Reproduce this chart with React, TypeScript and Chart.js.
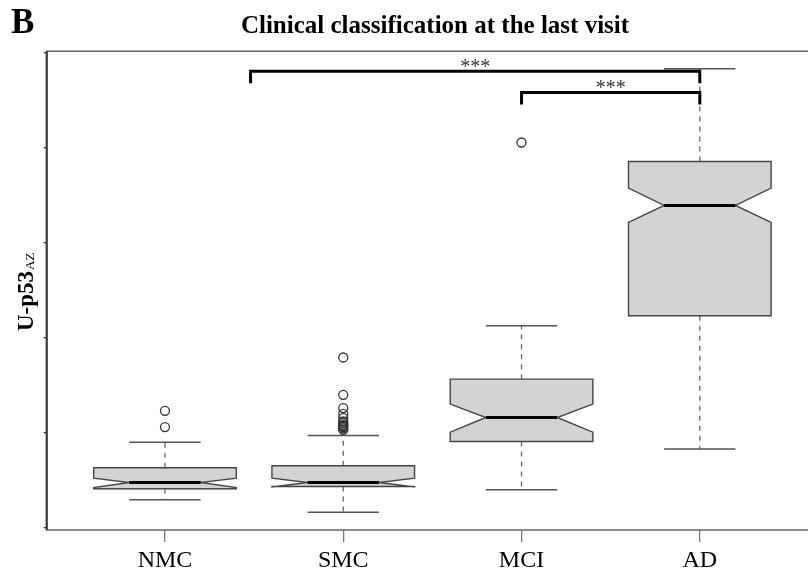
import React, { useEffect, useRef } from 'react';
import { Chart, registerables } from 'chart.js';

Chart.register(...registerables);

// groups on the x axis (positions 1..4)
const groups = ['NMC', 'SMC', 'MCI', 'AD'];

// box statistics (arbitrary units, y ticks 0..5 unlabelled)
const whiskerLo = [0.298, 0.168, 0.403, 0.832];
const q1 = [0.414, 0.438, 0.912, 2.235];
const notchLo = [0.427, 0.432, 1.01, 3.217];
const medians = [0.48, 0.48, 1.164, 3.396];
const notchHi = [0.526, 0.526, 1.305, 3.579];
const q3 = [0.635, 0.656, 1.568, 3.859];
const whiskerHi = [0.905, 0.975, 2.129, 4.835];

const outliers: number[][] = [
  [1.063, 1.235],
  [1.035, 1.05, 1.063, 1.075, 1.087, 1.105, 1.122, 1.158, 1.203, 1.263, 1.403, 1.796],
  [4.059],
  [],
];

const yTicks = [0, 1, 2, 3, 4, 5];

// significance brackets
const compFrom = [1.48, 3];
const compTo = [4, 4];
const compLevel = [4.81, 4.585];
const compLabel = ['***', '***'];

const boxPlugin = {
  id: 'notchedBoxes',
  beforeDatasetsDraw(chart: any) {
    const { ctx, scales } = chart;
    const px = (v: number) => scales.x.getPixelForValue(v);
    const py = (v: number) => scales.y.getPixelForValue(v);

    groups.forEach((_, i) => {
      const c = i + 1;
      ctx.save();
      // dashed whiskers
      ctx.strokeStyle = '#666';
      ctx.lineWidth = 1.3;
      ctx.setLineDash([5, 5]);
      ctx.beginPath();
      ctx.moveTo(px(c), py(q3[i]));
      ctx.lineTo(px(c), py(whiskerHi[i]));
      ctx.moveTo(px(c), py(q1[i]));
      ctx.lineTo(px(c), py(whiskerLo[i]));
      ctx.stroke();
      ctx.setLineDash([]);
      // staples
      ctx.strokeStyle = '#555';
      ctx.lineWidth = 1.5;
      ctx.beginPath();
      [whiskerHi[i], whiskerLo[i]].forEach(v => {
        ctx.moveTo(px(c - 0.2), py(v));
        ctx.lineTo(px(c + 0.2), py(v));
      });
      ctx.stroke();
      // notched box
      const pts = [
        [c - 0.4, q1[i]], [c - 0.4, notchLo[i]], [c - 0.2, medians[i]], [c - 0.4, notchHi[i]], [c - 0.4, q3[i]],
        [c + 0.4, q3[i]], [c + 0.4, notchHi[i]], [c + 0.2, medians[i]], [c + 0.4, notchLo[i]], [c + 0.4, q1[i]],
      ];
      ctx.beginPath();
      pts.forEach(([a, b], k) => (k ? ctx.lineTo(px(a), py(b)) : ctx.moveTo(px(a), py(b))));
      ctx.closePath();
      ctx.fillStyle = '#d3d3d3';
      ctx.fill();
      ctx.strokeStyle = '#444';
      ctx.lineWidth = 1.4;
      ctx.stroke();
      // median
      ctx.strokeStyle = '#000';
      ctx.lineWidth = 3.2;
      ctx.beginPath();
      ctx.moveTo(px(c - 0.2), py(medians[i]));
      ctx.lineTo(px(c + 0.2), py(medians[i]));
      ctx.stroke();
      ctx.restore();
    });
  },
  afterDraw(chart: any) {
    const { ctx, chartArea, scales } = chart;
    const px = (v: number) => scales.x.getPixelForValue(v);
    const py = (v: number) => scales.y.getPixelForValue(v);
    ctx.save();

    // plot frame
    ctx.strokeStyle = '#666';
    ctx.lineWidth = 1.5;
    ctx.strokeRect(chartArea.left, chartArea.top, chartArea.right - chartArea.left, chartArea.bottom - chartArea.top);
    ctx.strokeStyle = '#333';
    ctx.lineWidth = 2;
    ctx.beginPath();
    ctx.moveTo(chartArea.left, chartArea.top);
    ctx.lineTo(chartArea.left, chartArea.bottom);
    ctx.stroke();

    // brackets
    compFrom.forEach((f, i) => {
      const x1 = px(f);
      const x2 = px(compTo[i]);
      const yy = py(compLevel[i]);
      ctx.strokeStyle = '#000';
      ctx.lineWidth = 3;
      ctx.beginPath();
      ctx.moveTo(x1, yy + 12);
      ctx.lineTo(x1, yy);
      ctx.lineTo(x2, yy);
      ctx.lineTo(x2, yy + 12);
      ctx.stroke();
      ctx.fillStyle = '#333';
      ctx.font = '20px "Liberation Serif"';
      ctx.textAlign = 'center';
      ctx.textBaseline = 'alphabetic';
      ctx.fillText(compLabel[i], (x1 + x2) / 2, yy + 1.5);
    });

    // panel letter and title
    ctx.fillStyle = '#000';
    ctx.textBaseline = 'alphabetic';
    ctx.textAlign = 'left';
    ctx.font = 'bold 35px "Liberation Serif"';
    ctx.fillText('B', 11, 33);
    ctx.textAlign = 'center';
    ctx.font = 'bold 25px "Liberation Serif"';
    ctx.fillText('Clinical classification at the last visit', 435, 33);

    // y axis title
    ctx.translate(32.5, 331);
    ctx.rotate(-Math.PI / 2);
    ctx.textAlign = 'left';
    ctx.font = 'bold 23px "Liberation Serif"';
    ctx.fillText('U-p53', 0, 0);
    const w = ctx.measureText('U-p53').width;
    ctx.font = '13px "Liberation Serif"';
    ctx.fillText('AZ', w + 1, 1.5);
    ctx.restore();
  },
};

export default function App() {
  const canvasRef = useRef<HTMLCanvasElement>(null);

  useEffect(() => {
    if (!canvasRef.current) return;
    const chart = new Chart(canvasRef.current, {
      type: 'scatter',
      data: {
        datasets: [{
          data: outliers.flatMap((list, i) => list.map(v => ({ x: i + 1, y: v }))),
          pointStyle: 'circle',
          pointRadius: 4.5,
          pointBorderWidth: 1.3,
          borderColor: '#333',
          backgroundColor: 'rgba(0,0,0,0)',
        }],
      },
      options: {
        responsive: false,
        animation: false,
        events: [],
        layout: { padding: { top: 51.2, right: 12, left: 0, bottom: 0 } },
        plugins: { legend: { display: false }, tooltip: { enabled: false } },
        scales: {
          x: {
            type: 'linear',
            min: 0.3365,
            max: 4.663,
            afterBuildTicks: (s: any) => { s.ticks = groups.map((_, i) => ({ value: i + 1 })); },
            afterFit: (s: any) => { s.height = 44; },
            border: { display: false },
            grid: { drawOnChartArea: false, drawTicks: true, tickLength: 12, color: '#777', lineWidth: 1.3 },
            ticks: {
              padding: 4,
              color: '#000',
              font: { family: '"Liberation Serif"', size: 24 },
              callback: (v: any) => groups[Math.round(Number(v)) - 1] ?? '',
            },
          },
          y: {
            type: 'linear',
            min: -0.02,
            max: 5.02,
            afterBuildTicks: (s: any) => { s.ticks = yTicks.map(v => ({ value: v })); },
            afterFit: (s: any) => { s.width = 46.7; },
            border: { display: false },
            grid: { drawOnChartArea: false, drawTicks: true, tickLength: 3, color: '#333', lineWidth: 1.3 },
            ticks: { display: false },
          },
        },
      },
      plugins: [boxPlugin],
    });
    return () => chart.destroy();
  }, []);

  return (
    <div style={{ position: 'fixed', left: 0, top: 0, width: 808, height: 574, overflow: 'hidden', background: '#fff' }}>
      <canvas ref={canvasRef} width={830} height={574} style={{ display: 'block' }} />
    </div>
  );
}
